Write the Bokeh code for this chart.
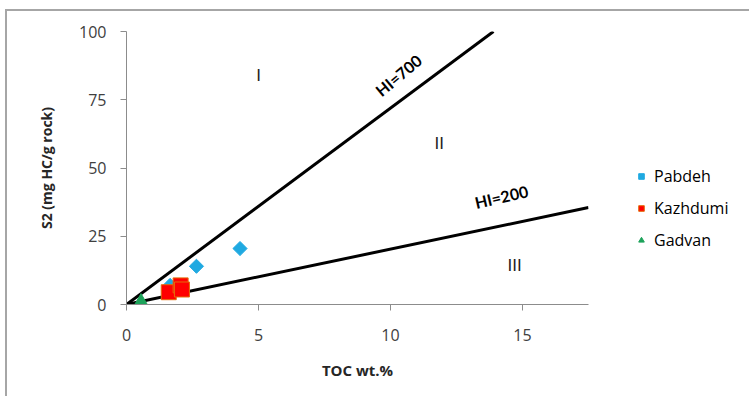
from bokeh.plotting import figure
from bokeh.models import Range1d, FixedTicker, Legend, LegendItem, Label
from bokeh.core.properties import value
from bokeh.embed import file_html
from bokeh.resources import INLINE
import math

# ---- data ----
pabdeh_toc = [4.3, 2.65, 1.65]
pabdeh_s2 = [20.5, 14.0, 7.0]
kazhdumi_toc = [1.6, 2.05, 2.1]
kazhdumi_s2 = [4.5, 7.0, 5.5]
gadvan_toc = [0.55]
gadvan_s2 = [0.6]

hi700_toc = [0, 13.9]
hi700_s2 = [0, 100]
hi200_toc = [0, 17.5]
hi200_s2 = [0, 35.5]

x_ticks = [0, 5, 10, 15]
y_ticks = [0, 25, 50, 75, 100]

zones = ["I", "II", "III"]
zone_x = [5.0, 11.85, 14.7]
zone_y = [84, 59, 14.3]

FONT = "Open Sans"
LFONT = "Lato"

p = figure(frame_width=462, frame_height=273, output_backend="svg", toolbar_location=None,
           x_range=Range1d(0, 17.5), y_range=Range1d(0, 100),
           min_border_left=119, min_border_right=150, min_border_top=20,
           min_border_bottom=92)
p.styles = {"border-left": "2px solid #a6a6a6", "border-top": "2px solid #a6a6a6",
            "margin-left": "5px", "margin-top": "9px"}
p.outline_line_color = None
p.xgrid.visible = False
p.ygrid.visible = False

for ax in (p.xaxis[0], p.yaxis[0]):
    ax.axis_line_color = "#8c8c8c"
    ax.major_tick_line_color = "#8c8c8c"
    ax.minor_tick_line_color = None
    ax.major_tick_out = 6
    ax.major_tick_in = 0
    ax.major_label_text_font = FONT
    ax.major_label_text_font_size = "16px"
    ax.major_label_text_color = "#404040"
    ax.axis_label_text_font = FONT
    ax.axis_label_text_font_style = "bold"
    ax.axis_label_text_color = "#262626"

p.xaxis.axis_label_text_font_size = "15px"
p.yaxis.axis_label_text_font_size = "14px"
p.xaxis.ticker = FixedTicker(ticks=x_ticks)
p.yaxis.ticker = FixedTicker(ticks=y_ticks)
p.xaxis.axis_label = "TOC wt.%"
p.yaxis.axis_label = "S2 (mg HC/g rock)"
p.xaxis.major_label_standoff = 18
p.xaxis.axis_label_standoff = 16
p.yaxis.major_label_standoff = 14
p.yaxis.axis_label_standoff = 20

p.line(hi700_toc, hi700_s2, line_color="black", line_width=3)
p.line(hi200_toc, hi200_s2, line_color="black", line_width=3)

r1 = p.scatter(pabdeh_toc, pabdeh_s2, marker="square", size=10, angle=math.pi / 4,
               fill_color="#1fa9e1", line_color="#1fa9e1")
r2 = p.scatter(kazhdumi_toc, kazhdumi_s2, marker="square", size=15,
               fill_color="#ff0000", line_color="#e46c0a", line_width=1)
r3 = p.scatter(gadvan_toc, gadvan_s2, marker="triangle", size=16,
               fill_color="#1da35a", line_color="#1da35a")

p.text(zone_x, zone_y, text=zones, text_font=value("DejaVu Sans"),
       text_font_size="16px", text_align="center", text_baseline="middle",
       text_color="#222222")

p.add_layout(Label(x=10.3, y=84, text="HI=700", angle=40, angle_units="deg",
                   text_font=LFONT, text_font_size="16px", text_font_style="bold",
                   text_align="center", text_baseline="middle", text_color="black"))
p.add_layout(Label(x=14.2, y=39.5, text="HI=200", angle=13, angle_units="deg",
                   text_font=LFONT, text_font_size="16px", text_font_style="bold",
                   text_align="center", text_baseline="middle", text_color="black"))

legend = Legend(items=[LegendItem(label="Pabdeh", renderers=[r1]),
                       LegendItem(label="Kazhdumi", renderers=[r2]),
                       LegendItem(label="Gadvan", renderers=[r3])],
                location=(46, 53), border_line_color=None,
                background_fill_alpha=0, label_text_font=FONT,
                label_text_font_size="16px", label_text_color="black",
                glyph_width=14, glyph_height=16, label_height=16, spacing=10,
                label_standoff=6, padding=0, margin=0)
p.add_layout(legend, "right")

open("out.html", "w").write(file_html(p, INLINE))
